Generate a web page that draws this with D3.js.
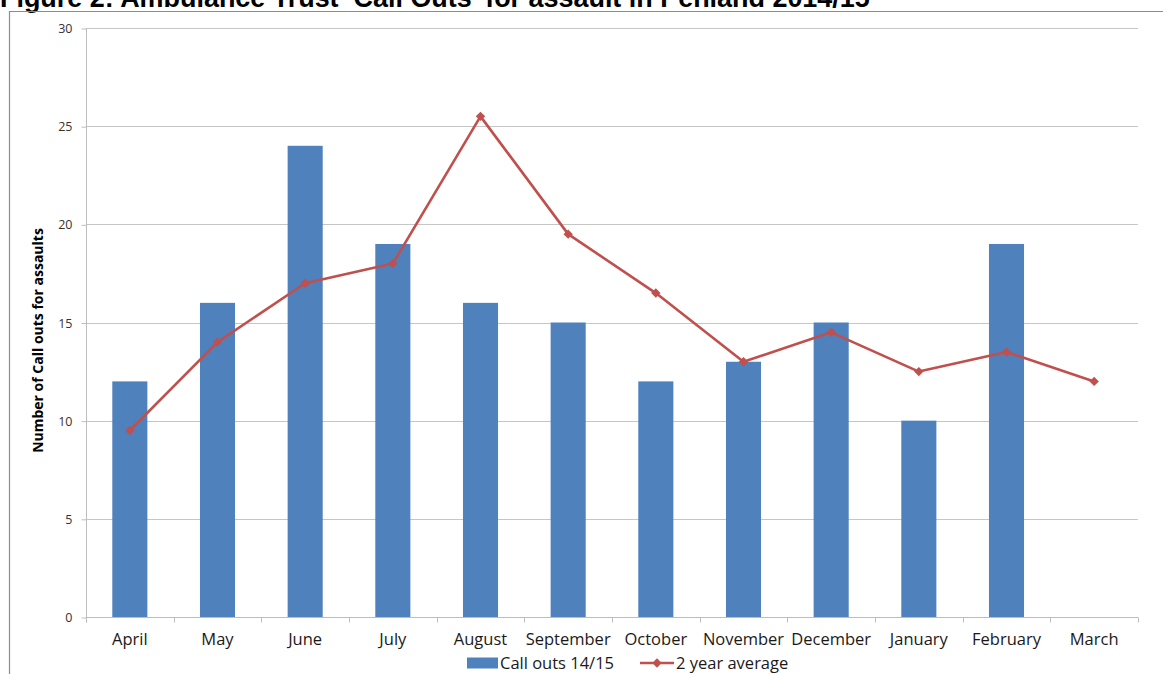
<!DOCTYPE html>
<html>
<head>
<meta charset="utf-8">
<script src="https://cdn.jsdelivr.net/npm/d3@7"></script>
<style>
  html, body { margin: 0; padding: 0; background: #fff; }
  svg { display: block; }
</style>
</head>
<body>
<svg id="chart" width="1165" height="674"></svg>
<script>
// Monthly call outs for assault, 2014/15, with the 2 year average
const months = ["April", "May", "June", "July", "August", "September", "October",
                "November", "December", "January", "February", "March"];
const callOuts = [12, 16, 24, 19, 16, 15, 12, 13, 15, 10, 19, null];
const twoYearAverage = [9.5, 14, 17, 18, 25.5, 19.5, 16.5, 13, 14.5, 12.5, 13.5, 12];
const yTicks = [0, 5, 10, 15, 20, 25, 30];

const titleText = "Figure 2: Ambulance Trust \u2018Call Outs\u2019 for assault in Penland 2014/15";
const barColor = "#4F81BD";
const lineColor = "#C0504D";
const labelFont = "'Open Sans', 'Liberation Sans', sans-serif";

const svg = d3.select("#chart");

// Title (sits partly above the page edge)
const title = svg.append("text")
  .attr("x", 0).attr("y", 7)
  .attr("font-family", "'Liberation Sans', Arial, sans-serif")
  .attr("font-weight", "bold")
  .attr("font-size", 21)
  .attr("fill", "#000")
  .text(titleText);
const tw = title.node().getComputedTextLength();
title.attr("font-size", 21 * 870 / tw);

// Chart frame
svg.append("path")
  .attr("d", "M9.5,674 V11.5 H1163")
  .attr("fill", "none")
  .attr("stroke", "#8c8c8c")
  .attr("stroke-width", 1.2);

const plot = { left: 86, right: 1138, top: 28, bottom: 617 };

const x = d3.scaleBand()
  .domain(months)
  .range([plot.left, plot.right])
  .paddingInner(0.6)
  .paddingOuter(0.3);

const xBoundary = d3.scaleBand()
  .domain(months)
  .range([plot.left, plot.right]);

const y = d3.scaleLinear()
  .domain([0, 30])
  .range([plot.bottom, plot.top]);

// Gridlines
svg.append("g")
  .selectAll("line")
  .data(yTicks.filter(d => d > 0))
  .join("line")
  .attr("x1", plot.left).attr("x2", plot.right)
  .attr("y1", d => Math.round(y(d)) + 0.5).attr("y2", d => Math.round(y(d)) + 0.5)
  .attr("stroke", "#c6c6c6")
  .attr("stroke-width", 1);

// Y axis
const yAxis = svg.append("g")
  .attr("transform", `translate(${plot.left + 0.5},0.5)`)
  .call(d3.axisLeft(y).tickValues(yTicks).tickSize(5).tickPadding(9));
yAxis.select(".domain").attr("stroke", "#bdbdbd").attr("d", `M0,${plot.top - 0.5}V${plot.bottom}`);
yAxis.selectAll(".tick line").attr("stroke", "#bdbdbd");
yAxis.selectAll(".tick text")
  .attr("font-family", labelFont)
  .attr("font-size", 12.5)
  .attr("fill", "#333");

// Bars
svg.append("g")
  .selectAll("rect")
  .data(months.map((m, i) => ({ m, v: callOuts[i] })).filter(d => d.v != null))
  .join("rect")
  .attr("x", d => x(d.m))
  .attr("width", x.bandwidth())
  .attr("y", d => y(d.v))
  .attr("height", d => y(0) - y(d.v))
  .attr("fill", barColor);

// X axis with ticks at category boundaries
const xAxisG = svg.append("g").attr("transform", `translate(0,${plot.bottom + 0.5})`);
xAxisG.append("line")
  .attr("x1", plot.left).attr("x2", plot.right)
  .attr("stroke", "#bdbdbd");
const bounds = months.map(m => xBoundary(m)).concat([plot.right]);
xAxisG.selectAll("line.tick")
  .data(bounds)
  .join("line")
  .attr("class", "tick")
  .attr("x1", d => Math.round(d) + 0.5).attr("x2", d => Math.round(d) + 0.5)
  .attr("y1", 0).attr("y2", 5)
  .attr("stroke", "#bdbdbd");
xAxisG.selectAll("text")
  .data(months)
  .join("text")
  .attr("x", d => xBoundary(d) + xBoundary.bandwidth() / 2)
  .attr("y", 27)
  .attr("text-anchor", "middle")
  .attr("font-family", labelFont)
  .attr("font-size", 16.5)
  .attr("fill", "#1a1a1a")
  .text(d => d);

// 2 year average line
const cx = m => xBoundary(m) + xBoundary.bandwidth() / 2;
const lineData = months.map((m, i) => ({ m, v: twoYearAverage[i] }));
svg.append("path")
  .datum(lineData)
  .attr("fill", "none")
  .attr("stroke", lineColor)
  .attr("stroke-width", 2.6)
  .attr("stroke-linejoin", "round")
  .attr("d", d3.line().x(d => cx(d.m)).y(d => y(d.v)));

const diamond = d3.symbol().type(d3.symbolDiamond2).size(56);
svg.append("g")
  .selectAll("path")
  .data(lineData)
  .join("path")
  .attr("transform", d => `translate(${cx(d.m)},${y(d.v)})`)
  .attr("d", diamond)
  .attr("fill", lineColor);

// Y axis title
svg.append("text")
  .attr("transform", `translate(43,${(plot.top + plot.bottom) / 2 + 18}) rotate(-90)`)
  .attr("text-anchor", "middle")
  .attr("font-family", labelFont)
  .attr("font-weight", "bold")
  .attr("font-size", 14)
  .attr("fill", "#000")
  .text("Number of Call outs for assaults");

// Legend
const legend = svg.append("g").attr("transform", "translate(0,663)");
legend.append("rect")
  .attr("x", 467).attr("y", -5.5).attr("width", 31).attr("height", 11)
  .attr("fill", barColor);
legend.append("text")
  .attr("x", 500).attr("y", 6)
  .attr("font-family", labelFont).attr("font-size", 16.5).attr("fill", "#1a1a1a")
  .text("Call outs 14/15");
legend.append("line")
  .attr("x1", 640).attr("x2", 674).attr("y1", 0).attr("y2", 0)
  .attr("stroke", lineColor).attr("stroke-width", 2.6);
legend.append("path")
  .attr("transform", "translate(657,0)")
  .attr("d", diamond)
  .attr("fill", lineColor);
legend.append("text")
  .attr("x", 676).attr("y", 6)
  .attr("font-family", labelFont).attr("font-size", 16.5).attr("fill", "#1a1a1a")
  .text("2 year average");
</script>
</body>
</html>
